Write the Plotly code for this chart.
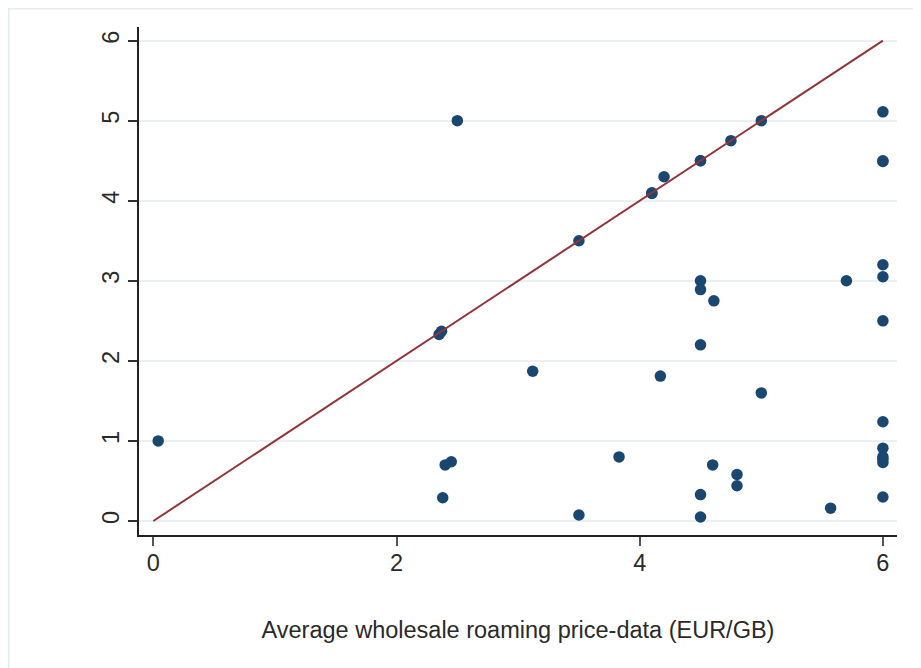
import plotly.graph_objects as go

# Data
x_vals = [0.04, 2.5, 2.35, 2.37, 3.5, 4.1, 4.1, 4.2, 4.5, 4.5, 4.75, 5.0,
          6, 6, 6, 6, 6, 6, 6, 6, 6, 6, 6, 6,
          5.7, 4.5, 4.5, 4.61, 4.5, 3.12, 4.17, 5.0,
          2.40, 2.45, 2.38, 3.5, 3.83, 4.5, 4.5, 4.6, 4.8, 4.8, 5.57]
y_vals = [1.0, 5.0, 2.33, 2.37, 3.5, 4.09, 4.1, 4.3, 4.5, 4.5, 4.75, 5.0,
          5.11, 4.5, 4.49, 3.2, 3.05, 2.5, 1.24, 0.91, 0.8, 0.77, 0.73, 0.3,
          3.0, 3.0, 2.89, 2.75, 2.2, 1.87, 1.81, 1.6,
          0.70, 0.74, 0.29, 0.075, 0.80, 0.33, 0.05, 0.70, 0.58, 0.44, 0.16]
line_x = [0, 6]
line_y = [0, 6]
x_ticks = [0, 2, 4, 6]
y_ticks = [0, 1, 2, 3, 4, 5, 6]
x_title = "Average wholesale roaming price-data (EUR/GB)"

FONT = "Liberation Sans, Arial, sans-serif"
TXT = "#2a2a2a"
FS = 23.5

fig = go.Figure()
fig.add_trace(go.Scatter(
    x=x_vals, y=y_vals, mode="markers",
    marker=dict(color="#1a476f", size=11.5, line=dict(width=0)),
    showlegend=False, cliponaxis=False))
fig.add_trace(go.Scatter(
    x=line_x, y=line_y, mode="lines",
    line=dict(color="#90353b", width=2),
    showlegend=False))

W, H = 913, 660
L, T, R, B = 131, 19, 24, 133
pw, ph = W - L - R, H - T - B
fig.update_layout(
    width=W, height=H,
    margin=dict(l=L, r=R, t=T, b=B, autoexpand=False),
    paper_bgcolor="white", plot_bgcolor="white",
    font=dict(family=FONT, size=FS, color=TXT),
    shapes=[dict(type="rect", xref="paper", yref="paper",
                 x0=(-L + 0.75) / pw, x1=(W - L + 5) / pw,
                 y0=(-B - 5) / ph, y1=(ph + T - 0.75) / ph,
                 line=dict(color="#e4ecee", width=1.5), layer="below")],
)
fig.update_xaxes(
    range=[-0.118, 6.116], tickvals=x_ticks, showgrid=False, zeroline=False,
    showline=True, linecolor="#222", linewidth=1.5,
    ticks="outside", ticklen=9, tickwidth=1.5, tickcolor="#555",
    tickfont=dict(size=FS, color=TXT), ticklabelstandoff=-3,
    title=dict(text=x_title, font=dict(size=FS, color=TXT), standoff=47),
)
fig.update_yaxes(
    range=[-0.175, 6.17], tickvals=y_ticks, showgrid=True,
    gridcolor="#eaf0f1", gridwidth=2, zeroline=False,
    showline=True, linecolor="#222", linewidth=1.5,
    ticks="outside", ticklen=9, tickwidth=1.5, tickcolor="#333",
    tickangle=-90, tickfont=dict(size=FS, color=TXT),
)

fig.write_html("out.html")
